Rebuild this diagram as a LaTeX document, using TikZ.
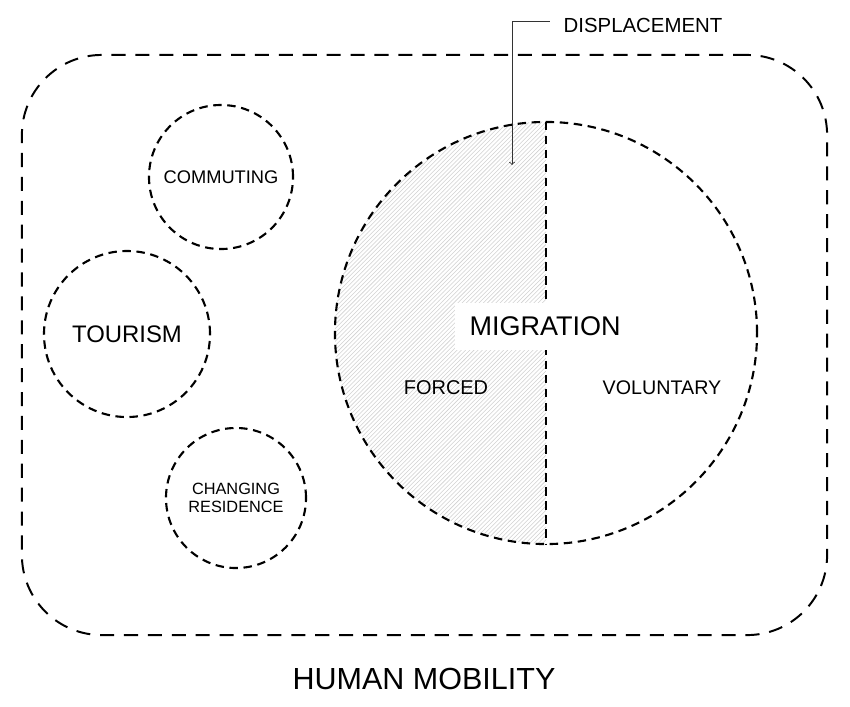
\documentclass[tikz,border=0pt]{standalone}
\usepackage{fontspec}
\setmainfont{Liberation Sans}
\usepackage{tikz}
\usetikzlibrary{arrows}
\usetikzlibrary{patterns}
\usetikzlibrary{fit,positioning}
\newcommand{\fsz}[1]{\fontsize{#1pt}{1.12\dimexpr#1pt\relax}\selectfont}

\begin{document}
\begin{tikzpicture}[x=0.025cm,y=-0.025cm,
bubble/.style={circle,draw,line width=1.5pt,dash pattern=on 6pt off 4pt,inner sep=0pt,align=center},
border/.style={draw,line width=1.4pt,dash pattern=on 10pt off 7pt,rounded corners=2cm,inner sep=0pt},
hatch/.style={pattern=north east lines,pattern color=black!18}
]
\useasboundingbox (0,0) rectangle (850,706);

%outer frame
\node[border,minimum width=20.125cm,minimum height=14.5cm] (mobility) at (424.5,345) {};
\node (mobtext) at (424,679) {\fsz{21.7}HUMAN MOBILITY};

%small circles
\node[bubble,minimum size=3.6cm] (commuting) at (221,177) {\fsz{13}COMMUTING};
\node[bubble,minimum size=4.15cm] (tourism) at (127,334) {\fsz{17}TOURISM};
\node[bubble,minimum size=3.5cm,font=\fsz{11.6}] (residence) at (236,498) {CHANGING\\RESIDENCE};

%migration
\node[circle,minimum size=10.55cm,inner sep=0pt] (migration) at (546,333) {};
\fill[hatch] (migration.north) arc[start angle=90,end angle=270,radius=5.275cm] -- cycle;
\node[bubble,minimum size=10.55cm] at (migration) {};
\draw[line width=1.5pt,dash pattern=on 6pt off 4pt] (migration.north) -- (migration.south);
\node[fill=white,minimum width=4.5cm,minimum height=1.175cm] (miglabel) at (545,326) {\fsz{19.2}MIGRATION};
\node (forced) at (446,388) {\fsz{14.2}FORCED};
\node (voluntary) at (662,388) {\fsz{14}VOLUNTARY};

%displacement
\node (disp) at (643,25) {\fsz{14.5}DISPLACEMENT};
\coordinate (disptip) at (512,165);
\draw[->,line width=0.6pt,black!80] ([xshift=-0.22cm,yshift=0.08cm]disp.west) -- ([yshift=0.08cm]disp.west -| disptip) -- (disptip);

\end{tikzpicture}
\end{document}
